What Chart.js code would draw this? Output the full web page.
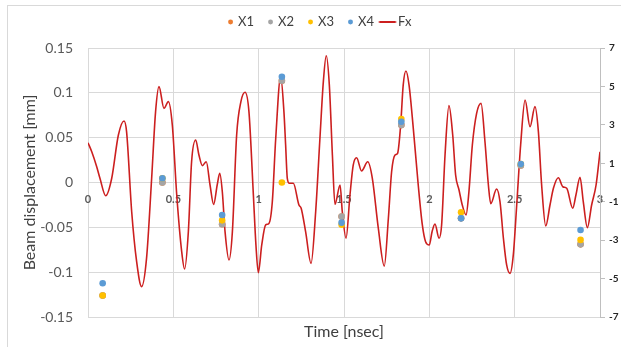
<!DOCTYPE html>
<html>
<head>
<meta charset="utf-8">
<script src="https://cdn.jsdelivr.net/npm/chart.js@4"></script>
<style>
    html, body { margin: 0; padding: 0; background: #fff; overflow: hidden; }
    #wrap { position: relative; width: 621px; height: 347px; }
    #frame { position: absolute; left: 7px; top: 5px; right: -10px; bottom: -10px; border-left: 1px solid #d9d9d9; border-top: 1px solid #d9d9d9; }
    #chartCanvas { position: absolute; left: 0; top: 0; }
</style>
</head>
<body>
<div id="wrap">
    <div id="frame"></div>
    <canvas id="chartCanvas" width="621" height="347"></canvas>
</div>
<script>
    // --- Data ---
    const xTicks = [0, 0.5, 1, 1.5, 2, 2.5, 3];
    const xTickLabels = ['0', '0.5', '1', '1.5', '2', '2.5', '3'];
    const leftTicks = [-0.15, -0.1, -0.05, 0, 0.05, 0.1, 0.15];
    const leftTickLabels = ['-0.15', '-0.1', '-0.05', '0', '0.05', '0.1', '0.15'];
    const rightTicks = [-7, -5, -3, -1, 1, 3, 5, 7];

    // sample times [nsec] and beam displacement [mm]
    const sampleTimes = [0.086, 0.436, 0.786, 1.136, 1.486, 1.836, 2.186, 2.536, 2.886];
    const x1 = [-0.126, 0.0, -0.0466, 0.1135, -0.038, 0.064, -0.040, 0.019, -0.069];
    const x2 = [-0.126, 0.0, -0.0466, 0.1135, -0.038, 0.064, -0.040, 0.019, -0.069];
    const x3 = [-0.126, 0.0047, -0.0422, 0.0, -0.047, 0.0708, -0.0333, 0.0206, -0.064];
    const x4 = [-0.1124, 0.0047, -0.0362, 0.118, -0.0448, 0.0678, -0.040, 0.0206, -0.053];

    // force curve (right axis)
    const fxTime = [
        0.000, 0.022, 0.051, 0.070, 0.104, 0.139, 0.178, 0.211, 0.226, 0.256,
        0.285, 0.314, 0.343, 0.373, 0.396, 0.416, 0.445, 0.471, 0.494, 0.520,
        0.549, 0.566, 0.588, 0.607, 0.631, 0.650, 0.670, 0.693, 0.715, 0.736,
        0.757, 0.772, 0.787, 0.803, 0.826, 0.846, 0.871, 0.896, 0.920, 0.943,
        0.969, 0.984, 0.998, 1.018, 1.041, 1.060, 1.080, 1.100, 1.129, 1.148,
        1.158, 1.168, 1.180, 1.203, 1.236, 1.249, 1.275, 1.307, 1.334, 1.359,
        1.379, 1.396, 1.414, 1.432, 1.447, 1.477, 1.490, 1.512, 1.535, 1.554,
        1.574, 1.603, 1.639, 1.666, 1.701, 1.736, 1.760, 1.779, 1.799, 1.814,
        1.832, 1.847, 1.863, 1.881, 1.906, 1.935, 1.959, 1.978, 2.000, 2.016,
        2.033, 2.057, 2.072, 2.092, 2.115, 2.137, 2.154, 2.174, 2.193, 2.215,
        2.232, 2.252, 2.277, 2.303, 2.326, 2.346, 2.360, 2.394, 2.414, 2.434,
        2.453, 2.473, 2.492, 2.512, 2.535, 2.561, 2.590, 2.619, 2.639, 2.658,
        2.682, 2.707, 2.727, 2.756, 2.782, 2.805, 2.840, 2.859, 2.883, 2.902,
        2.926, 2.951, 2.977, 3.000
    ];
    const fxForce = [
        2.07, 1.6, 0.82, 0.22, -0.69, 0.22, 2.47, 3.2, 2.65, -1.52,
        -4.12, -5.42, -3.95, 0.22, 3.69, 4.99, 3.86, 4.21, 2.99, -0.65,
        -3.6, -4.5, -2.56, 1.08, 2.21, 1.43, 0.88, 1.08, -0.13, -1.14,
        -0.13, 0.48, -0.48, -2.56, -4.03, -2.56, 2.47, 4.21, 4.7, 3.69,
        -0.65, -3.25, -4.69, -3.25, -2.21, -2.13, -1.0, 2.3, 5.51, 3.69,
        1.95, 0.2, -0.04, -0.04, -1.17, -1.34, -2.56, -4.21, -1.52, 2.3,
        5.25, 6.6, 5.08, 1.43, -1.14, -0.13, -1.52, -2.9, -0.65, 0.91,
        1.29, 0.6, 1.08, 0.22, -2.38, -4.35, -1.86, 0.56, 1.43, 1.52,
        2.99, 5.08, 5.8, 5.08, 2.82, -0.13, -2.21, -3.08, -3.25, -2.56,
        -2.16, -2.9, -2.21, 1.43, 4.0, 2.47, 0.39, -0.39, -1.17, -1.69,
        -0.48, 1.95, 3.6, 4.12, 2.12, -0.13, -1.1, -0.34, -1.0, -2.9,
        -4.29, -4.73, -3.77, -1.17, 1.95, 4.29, 2.9, 3.95, 2.65, -0.13,
        -2.26, -1.17, -0.3, 0.25, -0.22, -0.3, -1.34, -0.65, 0.27, -1.0,
        -2.35, -1.17, -0.13, 1.6
    ];

    const colors = { X1: '#ed7d31', X2: '#a5a5a5', X3: '#ffc000', X4: '#5b9bd5', Fx: '#cc1f1f' };

    const toPoints = (xs, ys) => xs.map((x, i) => ({ x: x, y: ys[i] }));

    // legend swatch for the line series
    const lineSwatch = document.createElement('canvas');
    lineSwatch.width = 36;
    lineSwatch.height = 4;
    const sw = lineSwatch.getContext('2d');
    sw.strokeStyle = colors.Fx;
    sw.lineWidth = 2;
    sw.beginPath();
    sw.moveTo(6.5, 2);
    sw.lineTo(23.5, 2);
    sw.stroke();

    function pointSet(label, values, order) {
        return {
            label: label,
            data: toPoints(sampleTimes, values),
            backgroundColor: colors[label],
            borderColor: colors[label],
            borderWidth: 0,
            pointRadius: 3.3,
            pointStyle: 'circle',
            xAxisID: 'x',
            yAxisID: 'y',
            order: order
        };
    }

    // make room under the legend
    const legendGap = {
        id: 'legendGap',
        beforeInit(chart) {
            const fit = chart.legend.fit;
            chart.legend.fit = function () {
                fit.bind(chart.legend)();
                this.height += 9.5;
            };
        }
    };

    const tickFont = { family: 'Lato', size: 14 };

    new Chart(document.getElementById('chartCanvas'), {
        type: 'scatter',
        data: {
            datasets: [
                pointSet('X1', x1, 4),
                pointSet('X2', x2, 3),
                pointSet('X3', x3, 2),
                pointSet('X4', x4, 1),
                {
                    label: 'Fx',
                    data: toPoints(fxTime, fxForce),
                    showLine: true,
                    borderColor: colors.Fx,
                    backgroundColor: colors.Fx,
                    borderWidth: 1.6,
                    pointRadius: 0,
                    pointStyle: lineSwatch,
                    cubicInterpolationMode: 'monotone',
                    xAxisID: 'x',
                    yAxisID: 'y2',
                    order: 5
                }
            ]
        },
        options: {
            responsive: false,
            animation: false,
            layout: { padding: { left: 20, top: 0, right: 0, bottom: 0 } },
            plugins: {
                legend: {
                    position: 'top',
                    labels: {
                        usePointStyle: true,
                        boxWidth: 2,
                        boxHeight: 3.5,
                        padding: 15.5,
                        color: '#404040',
                        font: { family: 'Lato', size: 13 },
                        sort: (a, b) => a.datasetIndex - b.datasetIndex
                    }
                },
                tooltip: { enabled: false }
            },
            scales: {
                x: {
                    type: 'linear',
                    position: 'bottom',
                    min: 0,
                    max: 3,
                    afterBuildTicks: s => { s.ticks = xTicks.map(v => ({ value: v })); },
                    afterFit: s => { s.height = 30; },
                    grid: { color: '#d9d9d9', drawTicks: false },
                    border: { display: false },
                    ticks: { display: false },
                    title: {
                        display: true,
                        text: 'Time [nsec]',
                        color: '#404040',
                        font: { family: 'Lato', size: 16 },
                        padding: { top: 0, bottom: 5.4 }
                    }
                },
                xLabels: {
                    type: 'linear',
                    position: { y: 0 },
                    min: 0,
                    max: 3,
                    afterBuildTicks: s => { s.ticks = xTicks.map(v => ({ value: v })); },
                    grid: { display: false, drawTicks: false },
                    border: { display: false },
                    ticks: {
                        padding: 10,
                        color: '#595959',
                        font: { family: 'Lato', size: 11, weight: 'bold' },
                        callback: (v, i) => xTickLabels[i]
                    }
                },
                y: {
                    type: 'linear',
                    position: 'left',
                    min: -0.15,
                    max: 0.15,
                    afterBuildTicks: s => { s.ticks = leftTicks.map(v => ({ value: v })); },
                    afterFit: s => { s.width = 68; },
                    grid: { color: '#d9d9d9', drawTicks: false },
                    border: { display: false },
                    ticks: {
                        padding: 15,
                        color: '#595959',
                        font: tickFont,
                        callback: (v, i) => leftTickLabels[i]
                    },
                    title: {
                        display: true,
                        text: 'Beam displacement [mm]',
                        color: '#404040',
                        font: { family: 'Lato', size: 16 },
                        padding: { top: 0, bottom: 0 }
                    }
                },
                y2: {
                    type: 'linear',
                    position: 'right',
                    min: -7,
                    max: 7,
                    afterBuildTicks: s => { s.ticks = rightTicks.map(v => ({ value: v })); },
                    afterFit: s => { s.width = 21; },
                    grid: { drawOnChartArea: false, drawTicks: true, tickLength: 5, color: '#bfbfbf' },
                    border: { display: true, color: '#bfbfbf' },
                    ticks: {
                        padding: 4,
                        color: '#262626',
                        font: { family: 'Lato', size: 10, weight: 'bold' },
                        callback: v => String(v)
                    }
                }
            }
        },
        plugins: [legendGap]
    });
</script>
</body>
</html>
